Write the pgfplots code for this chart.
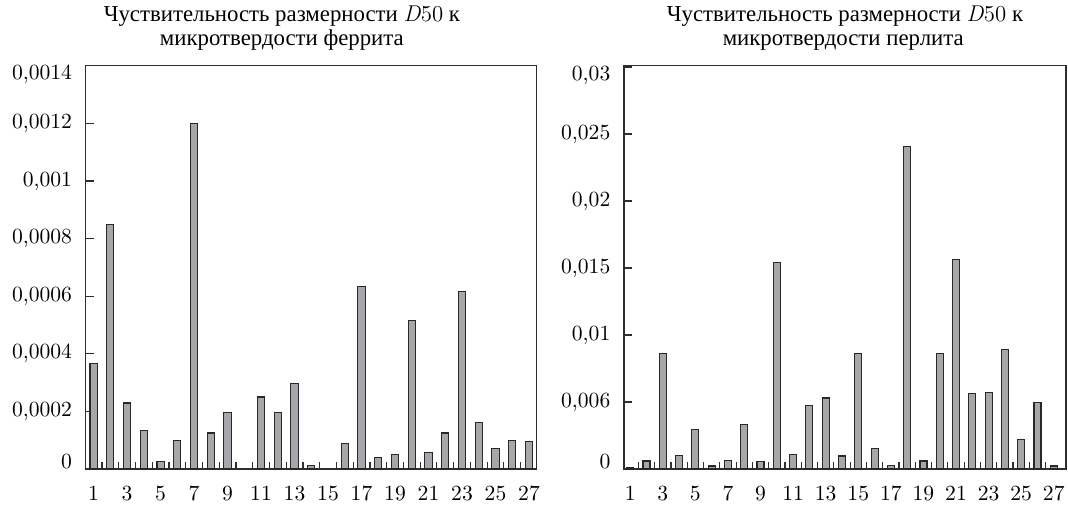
\documentclass[border=0pt]{standalone}
\usepackage{fontspec}
\usepackage{pgfplots}
\pgfplotsset{compat=1.18}
\newfontfamily\cyr{Liberation Serif}
\definecolor{barfill}{RGB}{166,167,171}
\definecolor{baredge}{RGB}{40,40,40}
\definecolor{axcol}{RGB}{45,45,45}

\pgfplotstableread{
x y
1 0.000366
2 0.000849
3 0.000229
4 0.000133
5 0.000025
6 0.0000991
7 0.0012
8 0.000125
9 0.000195
11 0.00025
12 0.000195
13 0.000296
14 0.0000122
16 0.0000898
17 0.000635
18 0.000039
19 0.0000493
20 0.000515
21 0.0000585
22 0.000125
23 0.000615
24 0.000162
25 0.0000713
26 0.0000981
27 0.0000946
}\ferrite

\pgfplotstableread{
x y
1 0.000105
2 0.0006
3 0.00862
4 0.00103
5 0.00295
6 0.000225
7 0.00065
8 0.00333
9 0.00055
10 0.0154
11 0.00108
12 0.00475
13 0.0053
14 0.00097
15 0.00862
16 0.00155
17 0.000255
18 0.0241
19 0.0006
20 0.00862
21 0.01562
22 0.00565
23 0.00573
24 0.00895
25 0.00223
26 0.00495
27 0.000225
}\pearlite

\pgfplotsset{mybar/.style={
  scale only axis, height=201.65pt,
  ybar, bar width=0.43, bar shift=0pt,
  ymin=0, scaled y ticks=false,
  xtick={1,3,...,27},
  xticklabels={1,3,5,7,9,11,13,15,17,19,21,23,25,27},
  minor xtick={1.5,2.5,...,26.5},
  tick align=inside, tick pos=left,
  major x tick style={draw=none},
  minor tick length=3.5pt, major tick length=4pt,
  axis line style={line width=0.6pt, draw=axcol},
  every tick/.append style={axcol, line width=0.6pt},
  tick label style={font=\fontsize{10.8}{13}\selectfont},
  xticklabel style={yshift=-4.9pt},
  yticklabel style={xshift=-3.3pt},
  clip=false,
}}

\begin{document}
\begin{tikzpicture}
\begin{axis}[mybar, at={(0pt,0pt)}, anchor=south west,
  width=225.5pt, xmin=0.53, xmax=27.46, ymax=0.0014,
  ytick={0,0.0002,0.0004,0.0006,0.0008,0.001,0.0012,0.0014},
  yticklabels={{\raisebox{3.5pt}[\height][\depth]{0}},{0,0002},{0,0004},{0,0006},{0,0008},{0,001},{0,0012},{\raisebox{-4.5pt}[\height][\depth]{0,0014}}},
]
\addplot[fill=barfill, draw=baredge, line width=0.55pt] table[x=x,y=y] {\ferrite};
\node[anchor=base, font=\cyr\fontsize{11.4}{13}\selectfont, yshift=22pt] at (rel axis cs:0.435,1) {Чуствительность размерности \textrm{\textit{D}50} к};
\node[anchor=base, font=\cyr\fontsize{11.4}{13}\selectfont, yshift=10pt] at (rel axis cs:0.435,1) {микротвердости феррита};
\end{axis}
\begin{axis}[mybar, at={(269.15pt,0pt)}, anchor=south west,
  width=221pt, xmin=0.62, xmax=27.75, ymax=0.0301,
  ytick={0,0.005,0.01,0.015,0.02,0.025,0.03},
  yticklabels={{\raisebox{3.5pt}[\height][\depth]{0}},{0,006},{0,01},{0,015},{0,02},{0,025},{\raisebox{-4.2pt}[\height][\depth]{0,03}}},
]
\addplot[fill=barfill, draw=baredge, line width=0.55pt] table[x=x,y=y] {\pearlite};
\node[anchor=base, font=\cyr\fontsize{11.4}{13}\selectfont, yshift=22pt] at (rel axis cs:0.5,1) {Чуствительность размерности \textrm{\textit{D}50} к};
\node[anchor=base, font=\cyr\fontsize{11.4}{13}\selectfont, yshift=10pt] at (rel axis cs:0.496,1) {микротвердости перлита};
\end{axis}
\pgfresetboundingbox
\path[use as bounding box] (-42.85pt,-18.5pt) rectangle (491.15pt,234.5pt);
\end{tikzpicture}
\end{document}
